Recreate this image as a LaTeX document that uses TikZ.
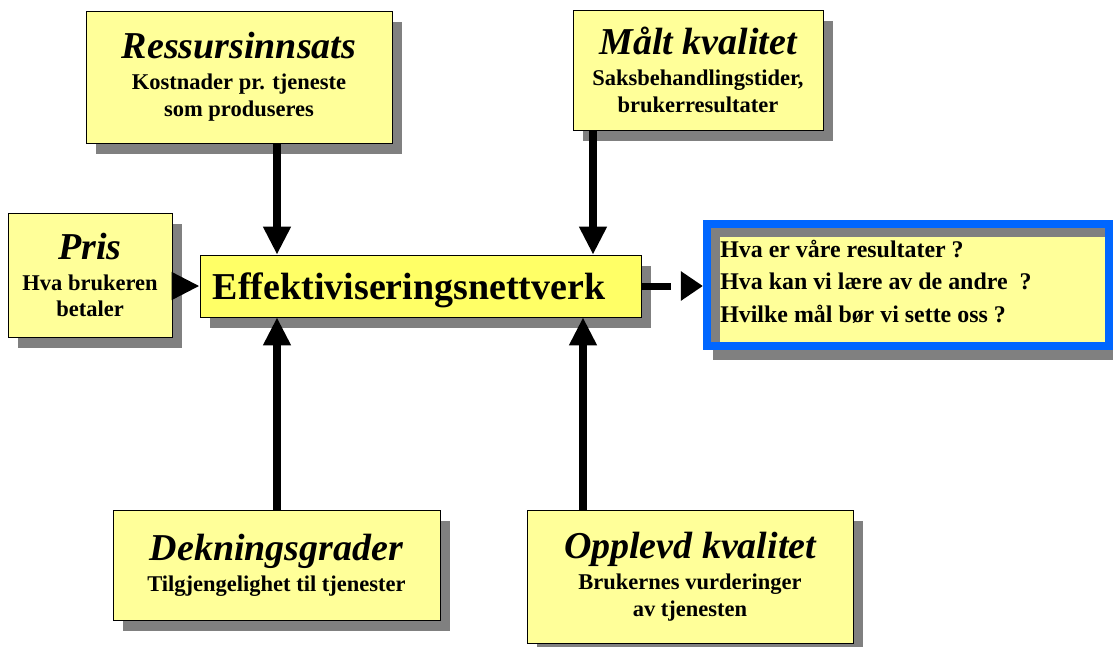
\documentclass[tikz,border=0pt]{standalone}
\usepackage{fontspec}
\setmainfont{Liberation Serif}
\usetikzlibrary{arrows.meta,shadows}
\definecolor{boxyellow}{HTML}{FFFF99}
\definecolor{hubyellow}{HTML}{FFFF66}
\definecolor{shadowgray}{HTML}{808080}
\definecolor{frameblue}{HTML}{0066FF}
\newcommand{\headfont}{\fontsize{27}{30}\selectfont\bfseries\itshape}
\newcommand{\subfont}{\fontsize{16}{19}\selectfont\bfseries}
\tikzset{
  factor/.style    = {shape=rectangle, draw, fill=boxyellow,
                      inner sep=0pt, align=center, font=\subfont,
                      general shadow={fill=shadowgray,
                        shadow xshift=0.25cm, shadow yshift=-0.275cm}},
  hub/.style       = {factor, fill=hubyellow, align=left,
                      font=\fontsize{27}{30}\selectfont\bfseries},
  goalframe/.style = {shape=rectangle, draw=frameblue, line width=0.2cm,
                      fill=shadowgray, inner sep=0pt},
  goaltext/.style  = {inner sep=0pt, align=left,
                      font=\fontsize{17}{23}\selectfont\bfseries},
  flow/.style      = {line width=0.2cm, -{Triangle[width=0.65cm,length=0.7cm]}}
}

\begin{document}
\begin{tikzpicture}[x=0.025cm, y=-0.025cm]
  \useasboundingbox (0,0) rectangle (1113,646);

  % centre of the network
  \node [hub, minimum height=1.55cm, inner xsep=0.325cm, text width=10.375cm,
         text depth=0pt] (eff) at (420.5,286) {Effektiviseringsnettverk};

  % the factors round it
  \node [factor, minimum width=7.65cm, minimum height=3.3cm] (ress) at (239,77)
    {{\headfont Ressursinnsats}\\[3pt] Kostnader pr. tjeneste\\ som produseres};
  \node [factor, minimum width=6.25cm, minimum height=3cm] (malt) at (698,70)
    {{\headfont Målt kvalitet}\\[3pt] Saksbehandlingstider,\\ brukerresultater};
  \node [factor, minimum width=4.1cm, minimum height=3.1cm] (pris) at (90,275)
    {{\headfont Pris}\\[3pt] Hva brukeren\\ betaler};
  \node [factor, minimum width=8.175cm, minimum height=2.75cm] (dekn) at (276.5,565)
    {{\headfont Dekningsgrader}\\[3pt] Tilgjengelighet til tjenester};
  \node [factor, minimum width=8.15cm, minimum height=3.325cm] (oppl) at (690,576.5)
    {{\headfont Opplevd kvalitet}\\[3pt] Brukernes vurderinger\\ av tjenesten};

  % the questions
  \fill [shadowgray] (713,350) rectangle (1123,360);
  \node [goalframe, minimum width=10.05cm, minimum height=3.05cm] (frame) at (908,285) {};
  \fill [boxyellow] (720,237) rectangle (1105,342);
  \node [goaltext, anchor=north west] (goals) at (720,240)
    {Hva er våre resultater ?\\ Hva kan vi lære av de andre\ \ ?\\ Hvilke mål bør vi sette oss ?};

  % arrows
  \draw [flow] (ress.south -| 277,0) -- (eff.north -| 277,0);
  \draw [flow] (malt.south -| 593,0) -- (eff.north -| 593,0);
  \draw [flow] (pris.east |- eff.west) -- (eff.west);
  \draw [flow] (dekn.north -| 277,0) -- (eff.south -| 277,0);
  \draw [flow] (oppl.north -| 583,0) -- (eff.south -| 583,0);
  \draw [line width=0.175cm, dash pattern=on 0.75cm off 1cm,
         -{Triangle[width=0.7cm,length=0.55cm]}] (eff.east) -- (eff.east -| frame.west);
\end{tikzpicture}
\end{document}
